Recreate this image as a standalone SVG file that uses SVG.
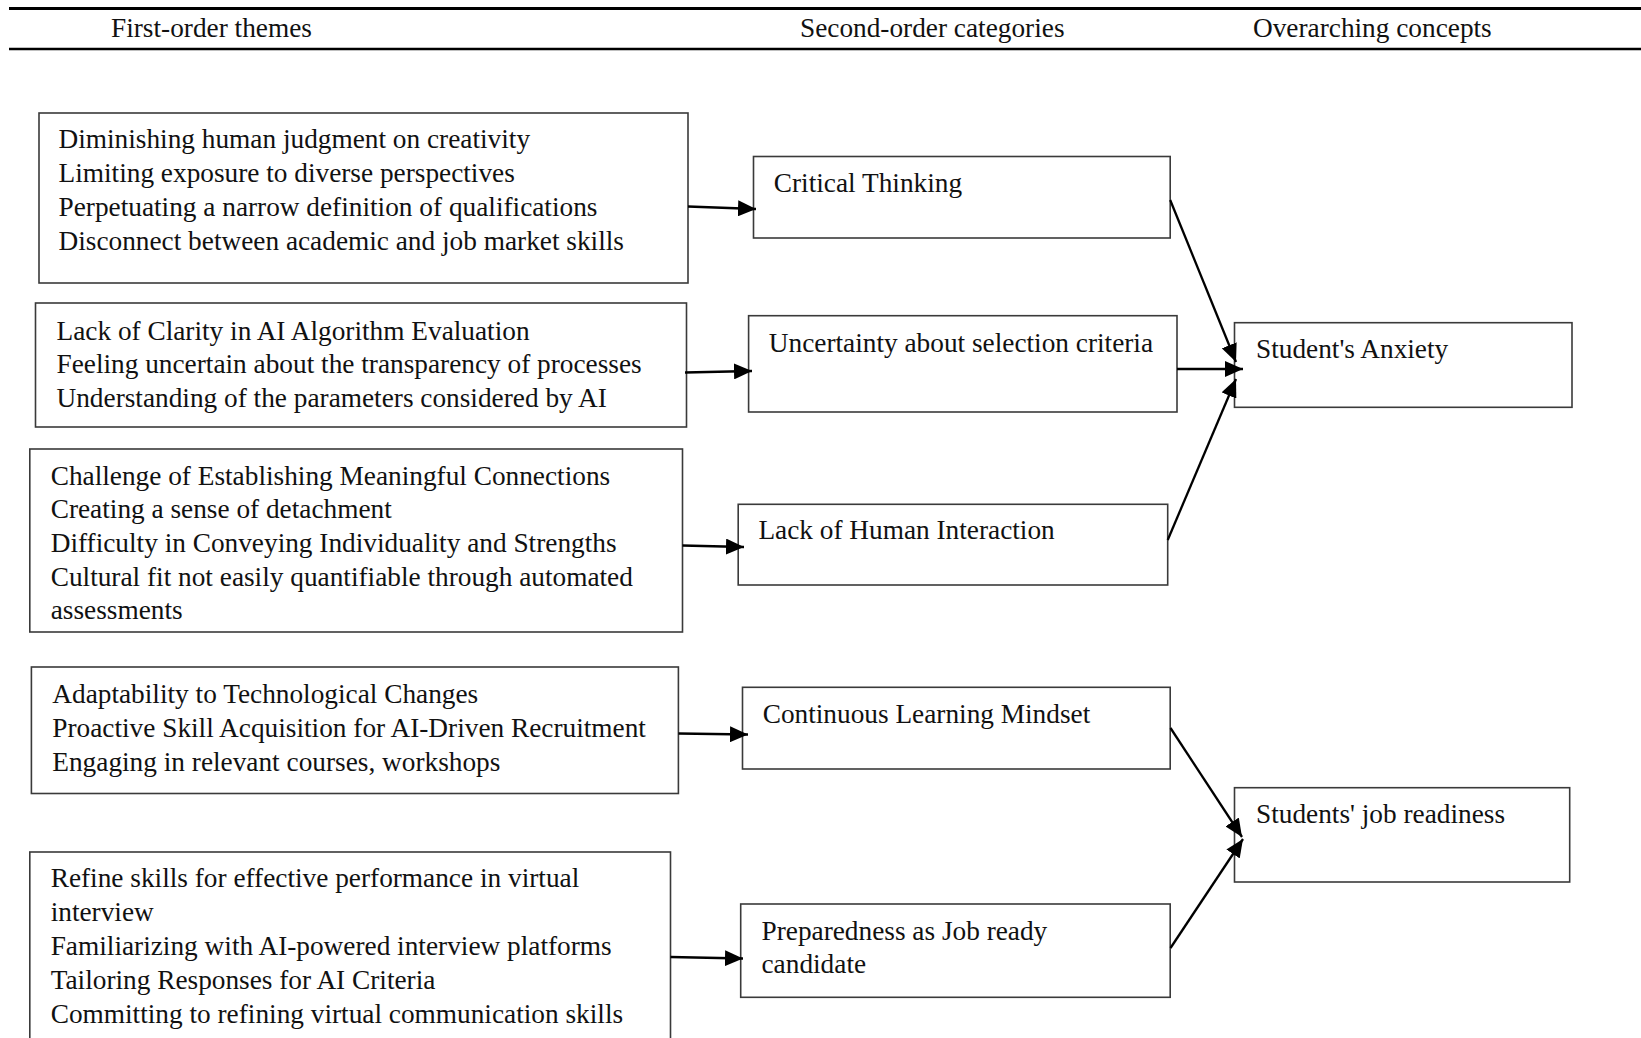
<svg xmlns="http://www.w3.org/2000/svg" width="1641" height="1038" viewBox="0 0 1641 1038">
<style>
text{font-family:"Liberation Serif","Times New Roman",serif;font-size:27.3px;fill:#111}
.box{fill:#fff;stroke:#3a3a3a;stroke-width:1.6}
.conn{stroke:#000;stroke-width:2.3;fill:none}
.hdr{stroke:#000;fill:none}
</style>
<defs>
<marker id="ah" markerUnits="userSpaceOnUse" markerWidth="18" markerHeight="16" refX="18" refY="8" orient="auto">
<path d="M0,0 L18,8 L0,16 z" fill="#000"/>
</marker>
</defs>
<rect width="1641" height="1038" fill="#fff"/>
<g id="header">
<line class="hdr" x1="9" y1="8.5" x2="1641" y2="8.5" stroke-width="3"/>
<line class="hdr" x1="9" y1="49" x2="1641" y2="49" stroke-width="2.5"/>
<text x="111" y="37">First-order themes</text>
<text x="800" y="37">Second-order categories</text>
<text x="1253" y="37">Overarching concepts</text>
</g>
<g id="a1">
<rect class="box" x="39" y="113" width="649" height="170"/>
<text x="58.5" y="148">Diminishing human judgment on creativity</text>
<text x="58.5" y="182">Limiting exposure to diverse perspectives</text>
<text x="58.5" y="216">Perpetuating a narrow definition of qualifications</text>
<text x="58.5" y="249.5">Disconnect between academic and job market skills</text>
</g>
<g id="a2">
<rect class="box" x="35.5" y="303" width="651" height="124"/>
<text x="56.5" y="340">Lack of Clarity in AI Algorithm Evaluation</text>
<text x="56.5" y="373">Feeling uncertain about the transparency of processes</text>
<text x="56.5" y="407">Understanding of the parameters considered by AI</text>
</g>
<g id="a3">
<rect class="box" x="29.8" y="449" width="652.7" height="183"/>
<text x="50.7" y="485">Challenge of Establishing Meaningful Connections</text>
<text x="50.7" y="518.3">Creating a sense of detachment</text>
<text x="50.7" y="551.7">Difficulty in Conveying Individuality and Strengths</text>
<text x="50.7" y="586">Cultural fit not easily quantifiable through automated</text>
<text x="50.7" y="619.3">assessments</text>
</g>
<g id="a4">
<rect class="box" x="31.4" y="667" width="647" height="126.5"/>
<text x="52.3" y="703.3">Adaptability to Technological Changes</text>
<text x="52.3" y="737.3">Proactive Skill Acquisition for AI-Driven Recruitment</text>
<text x="52.3" y="770.7">Engaging in relevant courses, workshops</text>
</g>
<g id="a5">
<rect class="box" x="29.8" y="852" width="640.7" height="200"/>
<text x="50.7" y="887.3">Refine skills for effective performance in virtual</text>
<text x="50.7" y="921">interview</text>
<text x="50.7" y="955">Familiarizing with AI-powered interview platforms</text>
<text x="50.7" y="989.3">Tailoring Responses for AI Criteria</text>
<text x="50.7" y="1022.7">Committing to refining virtual communication skills</text>
</g>
<g id="b1">
<rect class="box" x="753.5" y="156.5" width="416.7" height="81.5"/>
<text x="773.8" y="191.7">Critical Thinking</text>
</g>
<g id="b2">
<rect class="box" x="748.6" y="315.7" width="428.4" height="96.3"/>
<text x="768.8" y="351.7">Uncertainty about selection criteria</text>
</g>
<g id="b3">
<rect class="box" x="738.2" y="504.3" width="429.5" height="80.7"/>
<text x="758.4" y="539">Lack of Human Interaction</text>
</g>
<g id="b4">
<rect class="box" x="742.5" y="687.3" width="427.7" height="81.7"/>
<text x="762.7" y="722.7">Continuous Learning Mindset</text>
</g>
<g id="b5">
<rect class="box" x="740.7" y="904" width="429.5" height="93.3"/>
<text x="761.5" y="940">Preparedness as Job ready</text>
<text x="761.5" y="973.3">candidate</text>
</g>
<g id="c1">
<rect class="box" x="1234.5" y="322.7" width="337.5" height="84.6"/>
<text x="1256" y="358.3">Student's Anxiety</text>
</g>
<g id="c2">
<rect class="box" x="1234.5" y="787.7" width="335.2" height="94.3"/>
<text x="1256" y="822.7">Students' job readiness</text>
</g>
<g id="connectors">
<line class="conn" x1="688" y1="206.5" x2="756" y2="209" marker-end="url(#ah)"/>
<line class="conn" x1="685" y1="372.5" x2="752" y2="371" marker-end="url(#ah)"/>
<line class="conn" x1="682.5" y1="545.5" x2="744" y2="547" marker-end="url(#ah)"/>
<line class="conn" x1="678.5" y1="733.5" x2="748" y2="734.5" marker-end="url(#ah)"/>
<line class="conn" x1="670.5" y1="957" x2="743" y2="958.5" marker-end="url(#ah)"/>
<line class="conn" x1="1170.2" y1="200" x2="1236" y2="362" marker-end="url(#ah)"/>
<line class="conn" x1="1177" y1="369" x2="1243" y2="369" marker-end="url(#ah)"/>
<line class="conn" x1="1167.7" y1="540" x2="1236" y2="379" marker-end="url(#ah)"/>
<line class="conn" x1="1170.5" y1="728" x2="1242" y2="837" marker-end="url(#ah)"/>
<line class="conn" x1="1170.5" y1="948" x2="1243" y2="839" marker-end="url(#ah)"/>
</g>
</svg>
